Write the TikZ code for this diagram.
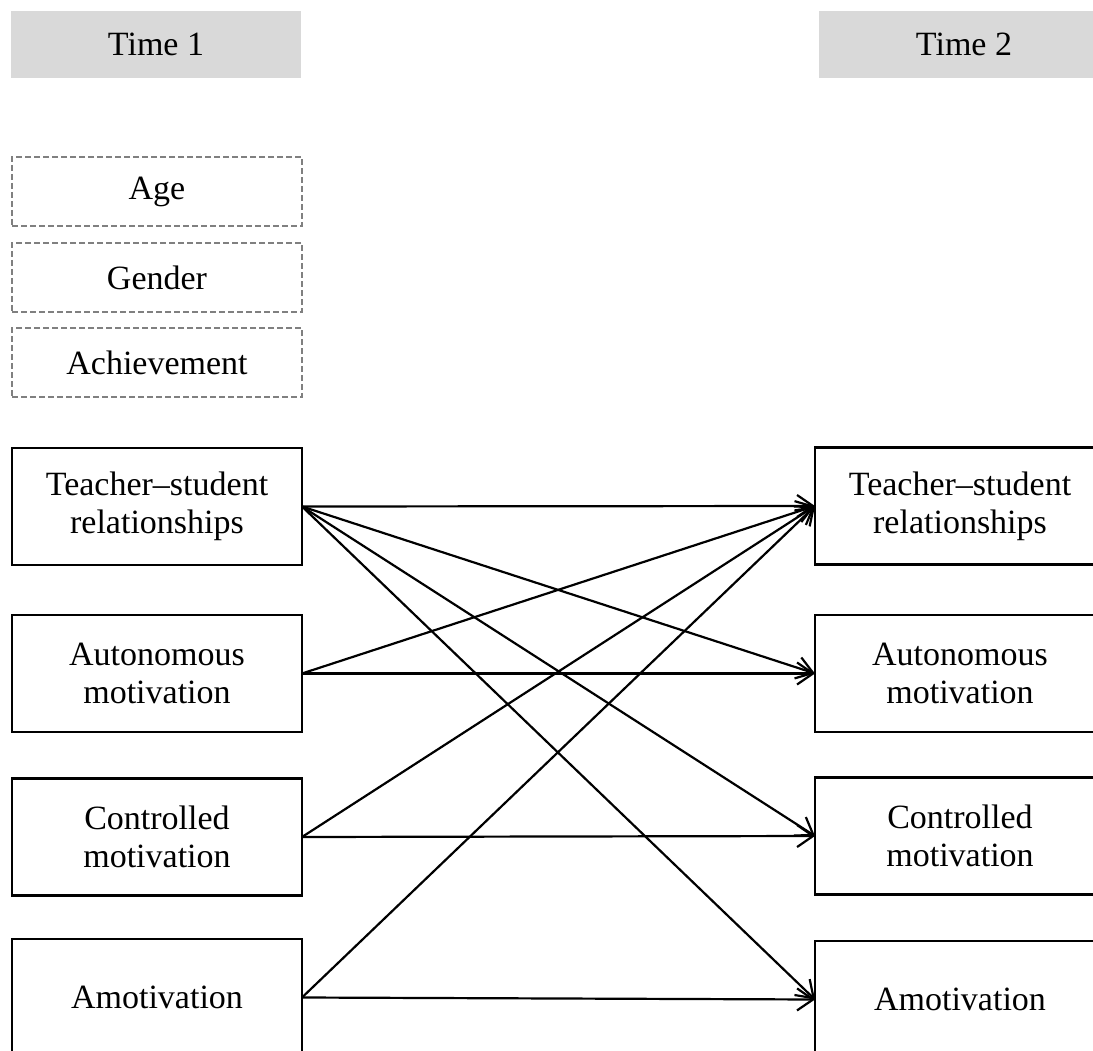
\documentclass[tikz,border=0pt]{standalone}
\usepackage{fontspec}
\setmainfont{Liberation Serif}
\usetikzlibrary{arrows.meta}
\definecolor{hdrgray}{HTML}{D9D9D9}
\definecolor{dashgray}{HTML}{808080}
\begin{document}
\begin{tikzpicture}[x=1pt,y=-1pt,
  every node/.style={font=\fontsize{34}{38}\selectfont, align=center, inner sep=0pt, outer sep=0pt},
  hdr/.style={fill=hdrgray, minimum width=290pt, minimum height=67pt},
  ctrl/.style={draw=dashgray, dashed, dash pattern=on 6pt off 3pt, line width=2pt, minimum width=290pt, minimum height=69pt},
  var/.style={draw=black, line width=2.6pt, minimum width=290pt, minimum height=117pt},
  conn/.style={line width=2.2pt, -{Straight Barb[length=16pt,width=22pt,line width=2.2pt]}}]
\useasboundingbox (0,0) rectangle (1093,1051);
\clip (0,0) rectangle (1093,1051);
\fill[white] (0,0) rectangle (1093,1051);
% headers
\node[hdr] (t1) at (156,44.5) {Time 1};
\node[hdr] (t2) at (964,44.5) {Time 2};
% controls
\node[ctrl] (age) at (157,191.5) {Age};
\node[ctrl] (gender) at (157,277.5) {Gender};
\node[ctrl] (ach) at (157,362.5) {Achievement};
% time 1
\node[var] (ts1) at (157,506.5) {Teacher--student\\relationships};
\node[var] (au1) at (157,673.5) {Autonomous\\motivation};
\node[var] (co1) at (157,837) {Controlled\\motivation};
\node[var] (am1) at (157,997.5) {Amotivation};
% time 2
\node[var] (ts2) at (960,506) {Teacher--student\\relationships};
\node[var] (au2) at (960,673.5) {Autonomous\\motivation};
\node[var] (co2) at (960,836) {Controlled\\motivation};
\node[var] (am2) at (960,999.5) {Amotivation};
% connectors
\draw[conn] (ts1.east) -- (ts2.west);
\draw[conn] (ts1.east) -- (au2.west);
\draw[conn] (ts1.east) -- (co2.west);
\draw[conn] (ts1.east) -- (am2.west);
\draw[conn] (au1.east) -- (ts2.west);
\draw[conn] (au1.east) -- (au2.west);
\draw[conn] (co1.east) -- (ts2.west);
\draw[conn] (co1.east) -- (co2.west);
\draw[conn] (am1.east) -- (ts2.west);
\draw[conn] (am1.east) -- (am2.west);
\end{tikzpicture}
\end{document}
